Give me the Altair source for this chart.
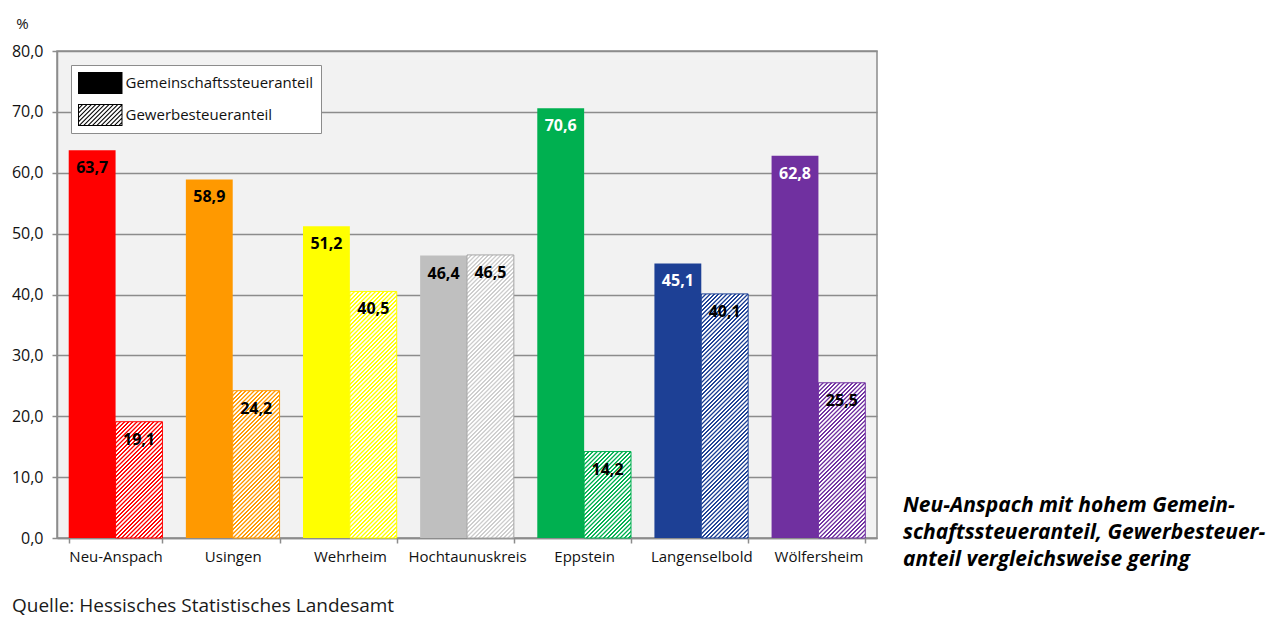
import altair as alt
import pandas as pd

# ---------------- data ----------------
gemeinden = ["Neu-Anspach", "Usingen", "Wehrheim", "Hochtaunuskreis",
             "Eppstein", "Langenselbold", "Wölfersheim"]
gemeinschaft = [63.7, 58.9, 51.2, 46.4, 70.6, 45.1, 62.8]
gewerbe = [19.1, 24.2, 40.5, 46.5, 14.2, 40.1, 25.5]
typen = ["Gemeinschaftssteueranteil", "Gewerbesteueranteil"]
y_ticks = [0, 10, 20, 30, 40, 50, 60, 70, 80]

annotation = ["Neu-Anspach mit hohem Gemein-",
              "schaftssteueranteil, Gewerbesteuer-",
              "anteil vergleichsweise gering"]
source = "Quelle: Hessisches Statistisches Landesamt"

# ---------------- styles ----------------
solid_colors = ["#ff0000", "#ff9900", "#ffff00", "#bfbfbf", "#00b050", "#1d4095", "#7030a0"]
hatch_colors = ["#ff0000", "#ff9900", "#ffff00", "#cdcdcd", "#00b050", "#1d4095", "#7030a0"]
hatch_strokes = ["#ff0000", "#ff9900", "#ffff00", "#a6a6a6", "#00b050", "#1d4095", "#7030a0"]
white_label = ["Eppstein", "Langenselbold", "Wölfersheim"]
FONT = "Open Sans"
GRID = "#8c8c8c"
TXT = "#111111"

W, H = 820, 487
YMAX = 80
PAD_IN, PAD_OUT = 0.2, 0.1
step = W / (len(gemeinden) - PAD_IN + 2 * PAD_OUT)
bar_w = step * (1 - PAD_IN) / 2

rows = []
for g, a, b in zip(gemeinden, gemeinschaft, gewerbe):
    rows.append({"Gemeinde": g, "Typ": typen[0], "Wert": a})
    rows.append({"Gemeinde": g, "Typ": typen[1], "Wert": b})
df = pd.DataFrame(rows)


def hatch_gradient(color, w, h, period=4.2, bg="#ffffff"):
    # diagonal "/" stripes at 45 degrees in pixel space (bounding-box gradient),
    # with soft edges to imitate anti-aliasing
    L = w + h
    s = w * w + h * h
    a = w * L / s
    b = h * L / s
    prof = [(0.0, color), (0.28, color), (0.46, bg), (0.82, bg)]
    stops = []
    k = 0
    while k * period / L < 1:
        for f, col in prof:
            o = (k + f) * period / L
            if o <= 1:
                stops.append({"offset": round(o, 5), "color": col})
        k += 1
    return {"gradient": "linear", "x1": 0, "y1": 0, "x2": round(a, 5), "y2": round(b, 5),
            "stops": stops}


# legend symbol paths: unit = 11 px (symbol size 22^2), swatch 44.5 x 22 px
SYM = 22.0
UNIT = SYM / 2
X0, X1 = -1.0, -1.0 + 44.5 / UNIT
Y0, Y1 = -1.0, 1.0
T = 1.0 / UNIT


def clip(poly, a, b, c):
    out = []
    n = len(poly)
    for i in range(n):
        p, q = poly[i], poly[(i + 1) % n]
        fp = a * p[0] + b * p[1] - c
        fq = a * q[0] + b * q[1] - c
        if fp <= 0:
            out.append(p)
        if (fp < 0 < fq) or (fq < 0 < fp):
            t = fp / (fp - fq)
            out.append((p[0] + t * (q[0] - p[0]), p[1] + t * (q[1] - p[1])))
    return out


def fmt(v):
    return f"{v:.3f}"


solid_path = f"M{fmt(X0)},{fmt(Y0)}H{fmt(X1)}V{fmt(Y1)}H{fmt(X0)}Z"
hp = [solid_path,
      f"M{fmt(X0+T)},{fmt(Y0+T)}V{fmt(Y1-T)}H{fmt(X1-T)}V{fmt(Y0+T)}Z"]
inner = [(X0 + T, Y0 + T), (X1 - T, Y0 + T), (X1 - T, Y1 - T), (X0 + T, Y1 - T)]
per, sw = 4.4 / UNIT, 1.5 / UNIT
c0 = X0 + Y0
while c0 < X1 + Y1:
    poly = clip(inner, -1, -1, -c0)
    poly = clip(poly, 1, 1, c0 + sw) if poly else poly
    if len(poly) >= 3:
        hp.append("M" + "L".join(f"{fmt(x)},{fmt(y)}" for x, y in poly) + "Z")
    c0 += per
hatch_path = "".join(hp)

# ---------------- chart ----------------
label_expr = "replace(format(datum.value, '.1f'), '.', ',')"

base = alt.Chart(df).encode(
    x=alt.X("Gemeinde:N", sort=gemeinden,
            scale=alt.Scale(domain=gemeinden, paddingInner=PAD_IN, paddingOuter=PAD_OUT),
            axis=alt.Axis(title=None, labelAngle=0, labelFont=FONT, labelFontSize=15,
                          labelColor=TXT, labelPadding=6, tickBand="extent",
                          tickSize=5, tickColor=GRID, tickWidth=1.5, domainColor=GRID,
                          domainWidth=1.5, grid=False)),
    xOffset=alt.XOffset("Typ:N", scale=alt.Scale(domain=typen, paddingInner=0, paddingOuter=0)),
    y=alt.Y("Wert:Q", scale=alt.Scale(domain=[0, YMAX], nice=False),
            axis=alt.Axis(values=y_ticks, labelExpr=label_expr, title="%", titleAngle=0,
                          titleX=-35, titleY=-28, titleAlign="center", titleBaseline="middle",
                          titleFont=FONT, titleFontSize=15, titleFontWeight="normal",
                          titleColor=TXT,
                          labelFont=FONT, labelFontSize=16, labelColor=TXT,
                          labelPadding=9, tickSize=5, tickColor=GRID, tickWidth=1.5,
                          domainColor=GRID, domainWidth=1.5, gridColor=GRID, gridWidth=1.5)),
)

legend_layer = base.mark_point(filled=True, color="black").encode(
    shape=alt.Shape("Typ:N", scale=alt.Scale(domain=typen, range=[solid_path, hatch_path]),
                    legend=alt.Legend(title=None, orient="top-left", offset=14, padding=7,
                                      fillColor="white", strokeColor=GRID,
                                      symbolSize=SYM ** 2, symbolStrokeWidth=0,
                                      symbolFillColor="black", symbolOpacity=1,
                                      labelFont=FONT, labelFontSize=15, labelColor=TXT,
                                      labelOffset=25.5, labelLimit=400, rowPadding=10,
                                      labelExpr="datum.label + '\u00a0\u00a0'")),
    opacity=alt.value(0),
)

solid_layer = base.transform_filter(alt.datum.Typ == typen[0]).mark_bar().encode(
    color=alt.Color("Gemeinde:N", scale=alt.Scale(domain=gemeinden, range=solid_colors),
                    legend=None)
)

hatch_layers = []
for g, v, c, s in zip(gemeinden, gewerbe, hatch_colors, hatch_strokes):
    h = v / YMAX * H
    grad = hatch_gradient(c, bar_w, h)
    hatch_layers.append(
        base.transform_filter((alt.datum.Typ == typen[1]) & (alt.datum.Gemeinde == g))
        .mark_bar(fill=grad, stroke=s, strokeWidth=1)
    )

white_list = "[" + ",".join(f"'{w}'" for w in white_label) + "]"
text_layer = base.transform_calculate(
    label="replace(format(datum.Wert, '.1f'), '.', ',')",
    lc=f"(datum.Typ == '{typen[0]}' && indexof({white_list}, datum.Gemeinde) >= 0) ? 'white' : 'black'",
).mark_text(baseline="middle", align="center", dy=18, font=FONT, fontSize=16,
            fontWeight="bold").encode(
    text="label:N",
    color=alt.Color("lc:N", scale=None),
)

one = pd.DataFrame({"k": [0]})
annot_layer = alt.Chart(one).mark_text(
    text=annotation, align="left", baseline="alphabetic", lineHeight=27, font=FONT,
    fontSize=21, fontStyle="italic", fontWeight="bold", color="#000000"
).encode(x=alt.value(846), y=alt.value(461))

source_layer = alt.Chart(one).mark_text(
    text=source, align="left", baseline="middle", font=FONT, fontSize=19, color="#1a1a1a"
).encode(x=alt.value(-45), y=alt.value(555))

chart = alt.layer(legend_layer, solid_layer, *hatch_layers, text_layer,
                  annot_layer, source_layer).properties(
    width=W, height=H,
    autosize=alt.AutoSizeParams(type="none"),
    padding={"left": 49, "top": 43, "right": 389, "bottom": 85},
    background="white",
).configure_view(fill="#f2f2f2", stroke=GRID, strokeWidth=1.5)

chart.save("out.html", embed_options={"renderer": "svg", "actions": False})
